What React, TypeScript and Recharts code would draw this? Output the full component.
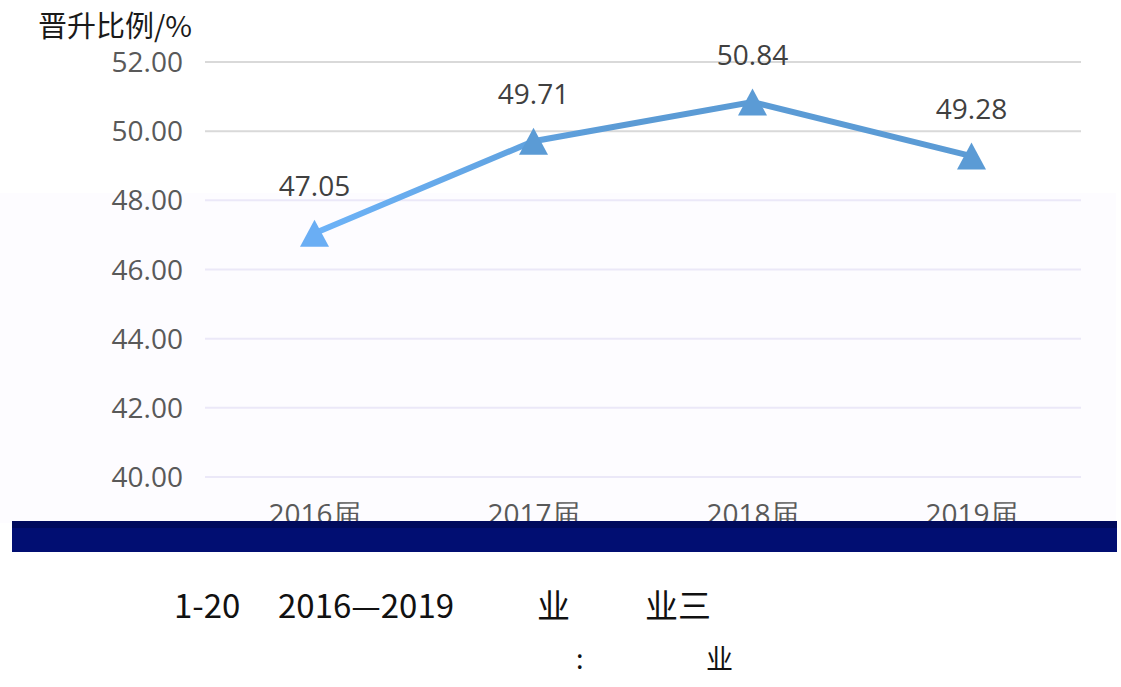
import { CartesianGrid, LabelList, Line, LineChart, XAxis, YAxis } from 'recharts';

const years = ['2016届', '2017届', '2018届', '2019届'];
const rates = [47.05, 49.71, 50.84, 49.28];
const yTicks = [40, 42, 44, 46, 48, 50, 52];

const data = years.map((year, i) => ({ year, rate: rates[i] }));

const numFont = '"Open Sans", "Noto Sans", sans-serif';
const cjkFont = '"Noto Sans CJK SC", sans-serif';

function Triangle(props: any) {
  const { cx, cy, index } = props;
  if (cx == null || cy == null) return null;
  const w = 29;
  const h = 27;
  const fill = index === 0 ? '#6aaef4' : '#5b9bd5';
  return (
    <path
      d={`M${cx},${cy - h / 2} L${cx + w / 2},${cy + h / 2} L${cx - w / 2},${cy + h / 2} Z`}
      fill={fill}
    />
  );
}

function GridLine(props: any) {
  const { x1, x2, y1, y2 } = props;
  const stroke = y1 < 180 ? '#d9d9d9' : '#ebe8f8';
  return <line x1={x1} x2={x2} y1={y1} y2={y2} stroke={stroke} strokeWidth={2} />;
}

export default function App() {
  return (
    <div style={{ position: 'absolute', left: 0, top: 0, width: 1121, height: 687, background: '#fff' }}>
      <div style={{ position: 'absolute', left: 0, top: 193, width: 1116, height: 330, background: '#fdfcff' }} />
      <div style={{ position: 'absolute', left: 38, top: 11, fontFamily: cjkFont, fontSize: 29, color: '#1a1a1a', lineHeight: '26px', whiteSpace: 'nowrap' }}>
        晋升比例/%
      </div>
      <div style={{ position: 'absolute', left: 0, top: 0 }}>
        <LineChart width={1121} height={560} data={data} margin={{ top: 62, right: 40, left: 0, bottom: 43 }}>
          <defs>
            <linearGradient id="lineGrad" gradientUnits="userSpaceOnUse" x1="314" y1="0" x2="620" y2="0">
              <stop offset="0%" stopColor="#6db3f8" />
              <stop offset="100%" stopColor="#5b9bd5" />
            </linearGradient>
          </defs>
          <CartesianGrid vertical={false} horizontal={GridLine} />
          <XAxis
            dataKey="year"
            height={40}
            axisLine={false}
            tickLine={false}
            tickSize={0}
            tickMargin={0}
            padding={{ left: 109.5, right: 109.5 }}
            tick={(p: any) => (
              <text x={p.x} y={p.y + 47} textAnchor="middle" fontFamily={numFont} fontSize={28} fill="#595959">
                {p.payload.value}
              </text>
            )}
          />
          <YAxis
            width={205}
            domain={[40, 52]}
            ticks={yTicks}
            axisLine={false}
            tickLine={false}
            tickSize={0}
            tickMargin={0}
            tick={(p: any) => (
              <text x={p.x - 22} y={p.y + 10} textAnchor="end" fontFamily={numFont} fontSize={28} fill="#595959">
                {Number(p.payload.value).toFixed(2)}
              </text>
            )}
          />
          <Line
            type="linear"
            dataKey="rate"
            stroke="url(#lineGrad)"
            strokeWidth={6}
            dot={<Triangle />}
            activeDot={false}
            isAnimationActive={false}
          >
            <LabelList
              dataKey="rate"
              content={(p: any) => (
                <text x={p.x} y={p.y - 37} textAnchor="middle" fontFamily={numFont} fontSize={28} fill="#404040">
                  {Number(p.value).toFixed(2)}
                </text>
              )}
            />
          </Line>
        </LineChart>
      </div>
      <div style={{ position: 'absolute', left: 12, top: 521, width: 1105, height: 31, background: '#010e72' }}>
        <div style={{ height: 7, background: '#000a5c' }} />
      </div>
      <div style={{ position: 'absolute', left: 0, top: 0, fontFamily: cjkFont, fontSize: 33, color: '#111', lineHeight: '40px', whiteSpace: 'nowrap' }}>
        <span style={{ position: 'absolute', left: 174, top: 584 }}>1-20</span>
        <span style={{ position: 'absolute', left: 278, top: 584 }}>2016—2019</span>
        <span style={{ position: 'absolute', left: 537, top: 584 }}>业</span>
        <span style={{ position: 'absolute', left: 645, top: 584 }}>业三</span>
      </div>
      <div style={{ position: 'absolute', left: 0, top: 0, fontFamily: cjkFont, fontSize: 27, color: '#111', lineHeight: '34px', whiteSpace: 'nowrap' }}>
        <span style={{ position: 'absolute', left: 576, top: 641 }}>:</span>
        <span style={{ position: 'absolute', left: 706, top: 641 }}>业</span>
      </div>
    </div>
  );
}
